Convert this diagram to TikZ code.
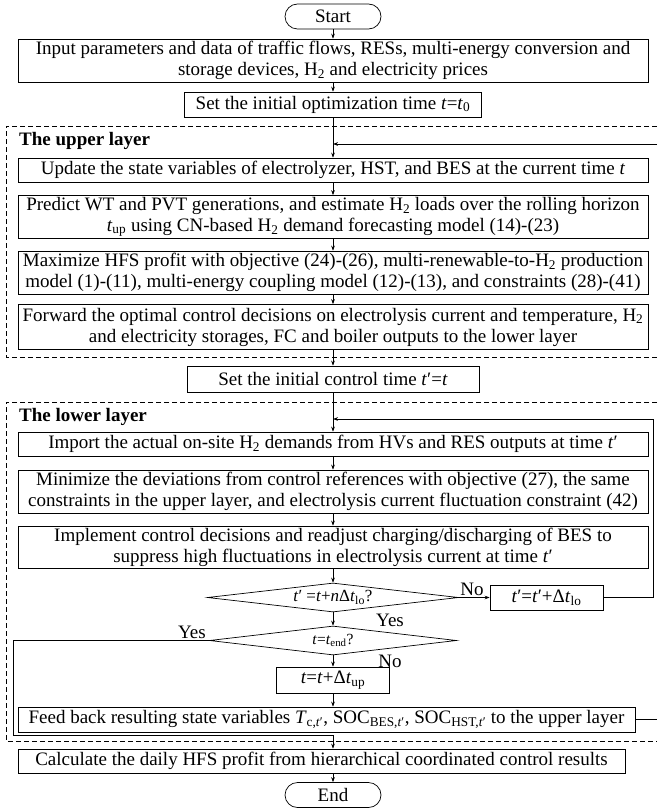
\documentclass[tikz,border=0pt]{standalone}
\usepackage{fontspec}
\setmainfont{Liberation Serif}
\usetikzlibrary{arrows.meta,positioning,shapes.geometric}
\newcommand{\bodyfs}{\fontsize{19}{21}\selectfont}

\begin{document}
\begin{tikzpicture}[x=1pt, y=-1pt, >={Stealth[length=5pt,width=3.6pt]},
  box/.style={draw, line width=0.7pt, align=center, inner sep=1pt, font=\bodyfs},
  term/.style={draw, line width=0.7pt, rounded corners=12.5pt, minimum width=96pt, minimum height=25pt, inner sep=0pt, font=\bodyfs},
  decision/.style={draw, line width=0.7pt, diamond, aspect=8.6, inner sep=0pt, minimum width=251pt, minimum height=29pt},
  layer/.style={line width=0.7pt, dash pattern=on 5pt off 3pt},
  lbl/.style={font=\bodyfs, inner sep=0pt}]
  \useasboundingbox (0,0) rectangle (657,808);
  % start and set-up
  \node[term] (start) at (333,16.5) {Start};
  \node[box, minimum width=630pt, minimum height=43pt] (input) at (333,60.5)
    {Input parameters and data of traffic flows, RESs, multi-energy conversion and\\
     storage devices, H\textsubscript{2} and electricity prices};
  \node[box, minimum width=297pt, minimum height=25pt] (setopt) at (333,104.5)
    {Set the initial optimization time \textit{t}=\textit{t}\textsubscript{0}};
  % upper layer
  \draw[layer] (657,126) -- (6,126) -- (6,357) -- (657,357);
  \node[lbl, anchor=west, font=\bodyfs\bfseries] (upper) at (19,141) {The upper layer};
  \node[box, minimum width=630pt, minimum height=24pt] (update) at (333,170)
    {Update the state variables of electrolyzer, HST, and BES at the current time \textit{t}};
  \node[box, minimum width=630pt, minimum height=43pt] (predict) at (333,217)
    {Predict WT and PVT generations, and estimate H\textsubscript{2} loads over the rolling horizon\\
     \textit{t}\textsubscript{up} using CN-based H\textsubscript{2} demand forecasting model (14)-(23)};
  \node[box, minimum width=630pt, minimum height=43pt] (maxim) at (333,272.5)
    {Maximize HFS profit with objective (24)-(26), multi-renewable-to-H\textsubscript{2} production\\
     model (1)-(11), multi-energy coupling model (12)-(13), and constraints (28)-(41)};
  \node[box, minimum width=630pt, minimum height=45pt] (forward) at (333,327)
    {Forward the optimal control decisions on electrolysis current and temperature, H\textsubscript{2}\\
     and electricity storages, FC and boiler outputs to the lower layer};
  \node[box, minimum width=292pt, minimum height=26pt] (setctl) at (333,379)
    {Set the initial control time \textit{t}′=\textit{t}};
  % lower layer
  \draw[layer] (657,402) -- (6,402) -- (6,741) -- (657,741);
  \node[lbl, anchor=west, font=\bodyfs\bfseries] (lower) at (19,417) {The lower layer};
  \node[box, minimum width=630pt, minimum height=24pt] (import) at (333,444)
    {Import the actual on-site H\textsubscript{2} demands from HVs and RES outputs at time \textit{t}′};
  \node[box, minimum width=630pt, minimum height=43pt] (minim) at (333,491.5)
    {Minimize the deviations from control references with objective (27), the same\\
     constraints in the upper layer, and electrolysis current fluctuation constraint (42)};
  \node[box, minimum width=630pt, minimum height=42pt] (implem) at (333,547)
    {Implement control decisions and readjust charging/discharging of BES to\\
     suppress high fluctuations in electrolysis current at time \textit{t}′};
  \node[decision, font=\fontsize{17}{19}\selectfont] (endlo) at (333,597.5)
    {\textit{t}′ =\textit{t}+\textit{n}Δ\textit{t}\textsubscript{lo}?};
  \node[box, minimum width=113pt, minimum height=25pt] (inclo) at (546.5,597.5)
    {\textit{t}′=\textit{t}′+Δ\textit{t}\textsubscript{lo}};
  \node[decision, minimum width=247pt, font=\fontsize{15.5}{17}\selectfont] (enday) at (333,640.5)
    {\textit{t}=\textit{t}\textsubscript{end}?};
  \node[box, minimum width=113pt, minimum height=26pt] (incup) at (333,680)
    {\textit{t}=\textit{t}+Δ\textit{t}\textsubscript{up}};
  \node[box, minimum width=617pt, minimum height=25pt] (feed) at (326.5,719.5)
    {Feed back resulting state variables \textit{T}\textsubscript{c,\textit{t}′}, SOC\textsubscript{BES,\textit{t}′}, SOC\textsubscript{HST,\textit{t}′} to the upper layer};
  % finish
  \node[box, minimum width=607pt, minimum height=24pt] (calc) at (321.5,761)
    {Calculate the daily HFS profit from hierarchical coordinated control results};
  \node[term] (stop) at (333,795) {End};
  % labels
  \node[lbl] (nolo) at (472,589) {No};
  \node[lbl] (yeslo) at (390,620) {Yes};
  \node[lbl] (yesday) at (192,632) {Yes};
  \node[lbl] (noday) at (390,661) {No};
  % main flow
  \foreach \a/\b in {start/input, input/setopt, setopt/update, update/predict, predict/maxim,
                     maxim/forward, forward/setctl, setctl/import, import/minim, minim/implem,
                     implem/endlo, endlo/enday, enday/incup}
    \draw[->, line width=0.6pt] (\a) -- (\b);
  \draw[->, line width=0.6pt] (incup) -- (incup |- feed.north);
  \draw[->, line width=0.6pt] (endlo) -- (inclo);
  % loops
  \coordinate (loopR) at (653,419);
  \coordinate (loopJ) at (333,419);
  \draw[->, line width=0.6pt] (inclo.east) -| (loopR) -- (loopJ);
  \coordinate (backR) at (657,144);
  \coordinate (backJ) at (333,144);
  \draw[->, line width=0.6pt] (backR) -- (backJ);
  \coordinate (feedR) at (657,719.5);
  \draw[line width=0.6pt] (feed.east) -- (feedR);
  \coordinate (yesL) at (13,735.5);
  \draw[->, line width=0.6pt] (enday.west) -| (yesL) -| (calc.north -| incup.south);
  \draw[->, line width=0.6pt] (calc.south -| stop.north) -- (stop);
\end{tikzpicture}
\end{document}
